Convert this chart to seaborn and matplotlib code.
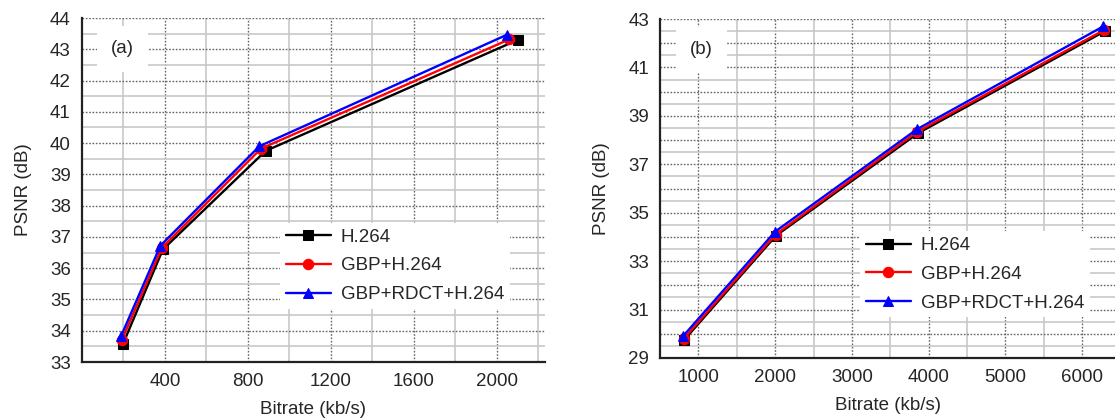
"""
Rate-distortion curves: PSNR vs bitrate for H.264 and GBP variants.
"""

import numpy as np
import pandas as pd
import matplotlib
matplotlib.use("Agg")
import matplotlib.pyplot as plt
from matplotlib.ticker import FixedLocator, FuncFormatter
import seaborn as sns

series_names = ["H.264", "GBP+H.264", "GBP+RDCT+H.264"]

# panel (a)
a_h264_rate = [198, 390, 885, 2100]
a_h264_psnr = [33.58, 36.6, 39.75, 43.3]
a_gbp_rate = [192, 385, 862, 2060]
a_gbp_psnr = [33.7, 36.65, 39.82, 43.32]
a_rdct_rate = [188, 378, 855, 2050]
a_rdct_psnr = [33.82, 36.72, 39.9, 43.47]

# panel (b)
b_h264_rate = [815, 2010, 3860, 6300]
b_h264_psnr = [29.75, 34.05, 38.28, 42.5]
b_gbp_rate = [810, 2005, 3855, 6290]
b_gbp_psnr = [29.8, 34.1, 38.35, 42.55]
b_rdct_rate = [805, 2000, 3850, 6280]
b_rdct_psnr = [29.92, 34.22, 38.45, 42.7]

colors = {"H.264": "black", "GBP+H.264": "#ff0000", "GBP+RDCT+H.264": "#0000ff"}
markers = {"H.264": "s", "GBP+H.264": "o", "GBP+RDCT+H.264": "^"}

FS = 13.5


def to_frame(rates, psnrs):
    rows = []
    for name, r, p in zip(series_names, rates, psnrs):
        for x, y in zip(r, p):
            rows.append({"rate": x, "psnr": y, "series": name})
    return pd.DataFrame(rows)


def draw_panel(ax, df, xlim, ylim, xmajor, xminor, ymajor, yminor, ylabel_step,
               tag, tag_pos, leg_anchor):
    for name in series_names:
        sub = df[df["series"] == name]
        sns.lineplot(
            data=sub, x="rate", y="psnr", color=colors[name], marker=markers[name],
            markersize=7.5, markeredgecolor=colors[name], linewidth=1.7,
            label=name, ax=ax, sort=False,
        )

    ax.set_xlim(*xlim)
    ax.set_ylim(*ylim)
    ax.xaxis.set_major_locator(FixedLocator(xmajor))
    ax.xaxis.set_minor_locator(FixedLocator(xminor))
    ax.yaxis.set_major_locator(FixedLocator(ymajor))
    ax.yaxis.set_minor_locator(FixedLocator(yminor))
    ax.yaxis.set_major_formatter(
        FuncFormatter(lambda v, p: f"{v:.0f}" if (round(v) - ylim[0]) % ylabel_step == 0 else "")
    )

    ax.grid(which="major", linestyle=(0, (1.2, 1.2)), color="#666666", linewidth=1.0)
    ax.grid(which="minor", linestyle="-", color="#c8c8c8", linewidth=1.2)
    ax.set_axisbelow(True)

    for s in ["top", "right"]:
        ax.spines[s].set_visible(False)
    for s in ["left", "bottom"]:
        ax.spines[s].set_color("#222222")
        ax.spines[s].set_linewidth(1.6)
    ax.tick_params(which="major", direction="in", length=6, width=1.2, color="#222222",
                   labelsize=FS, pad=8)
    ax.tick_params(which="minor", direction="in", length=3.5, width=1.2, color="#222222")

    ax.set_xlabel("Bitrate (kb/s)", fontsize=FS, labelpad=8)
    ax.set_ylabel("PSNR (dB)", fontsize=FS, labelpad=13)

    leg = ax.legend(loc="lower right", bbox_to_anchor=leg_anchor, fontsize=FS,
                    frameon=True, fancybox=False, framealpha=1, edgecolor="none",
                    facecolor="white", handlelength=2.4, borderpad=0.3,
                    labelspacing=0.62, handletextpad=0.55, borderaxespad=0)
    leg.get_frame().set_linewidth(0)

    ax.text(tag_pos[0], tag_pos[1], tag, transform=ax.transAxes, fontsize=FS,
            ha="center", va="center",
            bbox=dict(boxstyle="square,pad=0.75", facecolor="white", edgecolor="none"))


sns.set_theme(style="white")
plt.rcParams["font.family"] = ["Liberation Sans", "DejaVu Sans"]

df_a = to_frame([a_h264_rate, a_gbp_rate, a_rdct_rate],
                [a_h264_psnr, a_gbp_psnr, a_rdct_psnr])
df_b = to_frame([b_h264_rate, b_gbp_rate, b_rdct_rate],
                [b_h264_psnr, b_gbp_psnr, b_rdct_psnr])

fig = plt.figure(figsize=(11.15, 4.19), dpi=100)
ax_a = fig.add_axes([0.0735, 0.136, 0.415, 0.821])
ax_b = fig.add_axes([0.592, 0.1456, 0.408, 0.809])

draw_panel(ax_a, df_a, (0, 2230), (33, 44),
           [400, 800, 1200, 1600, 2000], [200, 600, 1000, 1400, 1800, 2200],
           np.arange(33, 45, 1), np.arange(33.5, 44, 1), 1,
           "(a)", (0.088, 0.91), (0.925, 0.155))
draw_panel(ax_b, df_b, (500, 6430), (29, 43),
           [1000, 2000, 3000, 4000, 5000, 6000], [1500, 2500, 3500, 4500, 5500],
           np.arange(29, 44, 1), np.arange(29.5, 43, 1), 2,
           "(b)", (0.09, 0.91), (0.945, 0.12))

fig.savefig("out.png", dpi=100)
